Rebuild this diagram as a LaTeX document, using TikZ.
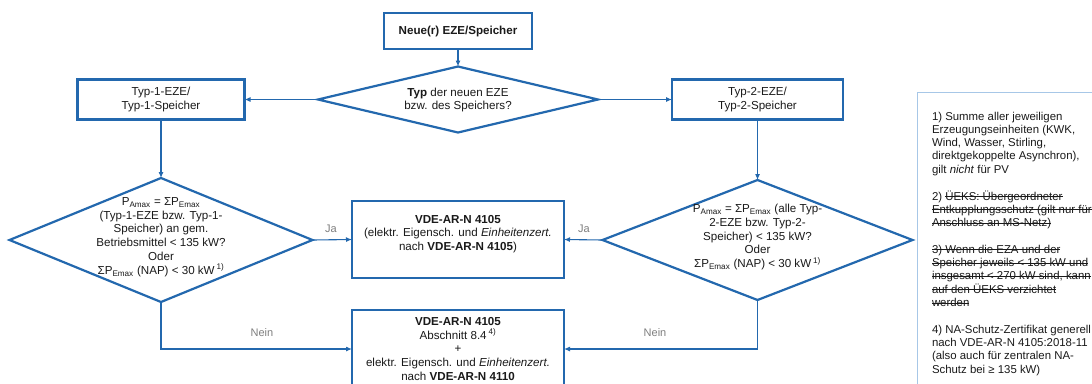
\documentclass[tikz,border=0pt]{standalone}
\usepackage{fontspec}
\setmainfont{Liberation Sans}
\usetikzlibrary{arrows.meta,shapes.geometric}
\definecolor{fcblue}{HTML}{2368AE}
\definecolor{notebd}{HTML}{A7C7E7}
\definecolor{lblgrey}{HTML}{7F7F7F}
\definecolor{txtc}{HTML}{1A1A1A}
\newcommand{\sbs}[1]{\textsubscript{#1}}
\newcommand{\sps}[1]{\textsuperscript{#1}}
\newsavebox{\strkbox}
\newcommand{\strk}[1]{\sbox{\strkbox}{#1}\rlap{\usebox{\strkbox}}\rule[0.27em]{\wd\strkbox}{0.9pt}}
\begin{document}
\begin{tikzpicture}[x=1pt,y=-1pt,
  every node/.style={inner sep=0pt, outer sep=0pt, text=txtc},
  fbox/.style={draw=fcblue, line width=2.2pt, rectangle},
  dia/.style={draw=fcblue, line width=2.2pt, diamond},
  txtn/.style={align=center, font=\fontsize{11.6}{13.8}\selectfont},
  conn/.style={draw=fcblue, line width=1.1pt, -{Latex[length=6pt,width=5pt]}},
  yn/.style={text=lblgrey, font=\fontsize{11}{13}\selectfont},
  notebox/.style={draw=notebd, line width=1pt, rectangle},
  notetxt/.style={font=\fontsize{11.4}{13.3}\selectfont}
]
\clip (0,0) rectangle (1092,383);
\fill[white] (0,0) rectangle (1092,383);

% top
\node[fbox, minimum width=148pt, minimum height=36pt, txtn] (n0) at (458,31) {\textbf{Neue(r) EZE/Speicher}};
\node[dia, minimum width=280pt, minimum height=66pt] (d1) at (458,99.5) {};
\node[txtn] (d1t) at (458,100) {\textbf{Typ} der neuen EZE\\bzw. des Speichers?};

\node[fbox, minimum width=167pt, minimum height=40pt, txtn] (t1) at (161,99.5) {Typ-1-EZE/\\Typ-1-Speicher};
\node[fbox, minimum width=171pt, minimum height=40pt, txtn] (t2) at (757.5,99.5) {Typ-2-EZE/\\Typ-2-Speicher};

% decision diamonds
\node[dia, minimum width=303pt, minimum height=124pt] (d2) at (161,240) {};
\node[txtn] (d2t) at (161,237) {P\sbs{Amax} = ΣP\sbs{Emax}\\(Typ-1-EZE bzw. Typ-1-\\Speicher) an gem.\\Betriebsmittel < 135 kW?\\Oder\\ΣP\sbs{Emax} (NAP) < 30 kW\,\sps{1)}};

\node[dia, minimum width=310pt, minimum height=120pt] (d3) at (757.5,240) {};
\node[txtn] (d3t) at (757.5,237) {P\sbs{Amax} = ΣP\sbs{Emax} (alle Typ-\\2-EZE bzw. Typ-2-\\Speicher) < 135 kW?\\Oder\\ΣP\sbs{Emax} (NAP) < 30 kW\,\sps{1)}};

% result boxes
\node[fbox, minimum width=212pt, minimum height=77pt] (v1) at (458,239.5) {};
\node[txtn] (v1t) at (458,234) {\textbf{VDE-AR-N 4105}\\(elektr. Eigensch. und \textit{Einheitenzert.}\\nach \textbf{VDE-AR-N 4105})};

\node[fbox, minimum width=212pt, minimum height=78pt, txtn] (v2) at (458,349) {\textbf{VDE-AR-N 4105}\\Abschnitt 8.4\,\sps{4)}\\+\\elektr. Eigensch. und \textit{Einheitenzert.}\\nach \textbf{VDE-AR-N 4110}};

% connectors
\draw[conn] (n0.south) -- (d1.north);
\draw[conn] (d1.west) -- (t1.east);
\draw[conn] (d1.east) -- (t2.west);
\draw[conn] (t1.south) -- (d2.north);
\draw[conn] (t2.south) -- (d3.north);
\draw[conn] (d2.east) -- (v1.west);
\draw[conn] (d3.west) -- (v1.east);
\draw[conn] (d2.south) |- (v2.west);
\draw[conn] (d3.south) |- (v2.east);

\node[yn] (ja1) at (331,229) {Ja};
\node[yn] (ja2) at (584,229) {Ja};
\node[yn] (nein1) at (262,333) {Nein};
\node[yn] (nein2) at (655,333) {Nein};

% notes
\node[notebox, anchor=north west, minimum width=200pt, minimum height=310pt] (notes) at (917,92) {};
\node[notetxt, anchor=base west] (notest) at (932,120) {\begin{tabular}[t]{@{}l@{}}
1) Summe aller jeweiligen\\
Erzeugungseinheiten (KWK,\\
Wind, Wasser, Stirling,\\
direktgekoppelte Asynchron),\\
gilt \textit{nicht} für PV\\
\\
2) \strk{ÜEKS: Übergeordneter}\\
\strk{Entkupplungsschutz (gilt nur für}\\
\strk{Anschluss an MS-Netz)}\\
\\
\strk{3) Wenn die EZA und der}\\
\strk{Speicher jeweils < 135 kW und}\\
\strk{insgesamt < 270 kW sind, kann}\\
\strk{auf den ÜEKS verzichtet}\\
\strk{werden}\\
\\
4) NA-Schutz-Zertifikat generell\\
nach VDE-AR-N 4105:2018-11\\
(also auch für zentralen NA-\\
Schutz bei ≥ 135 kW)
\end{tabular}};
\end{tikzpicture}
\end{document}
